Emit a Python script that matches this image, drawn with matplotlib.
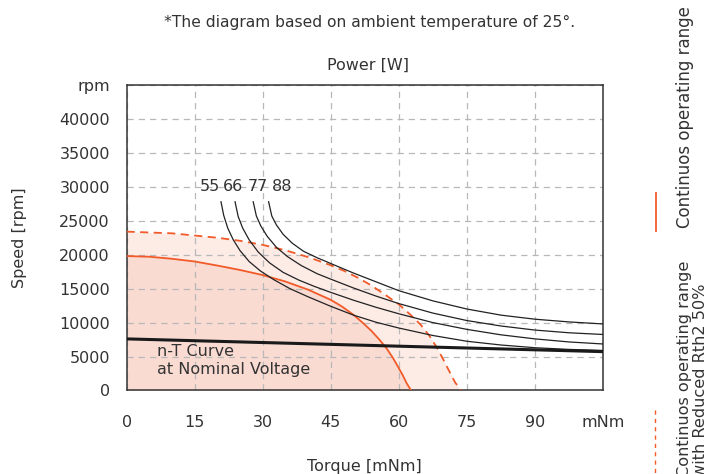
import numpy as np
import matplotlib
matplotlib.use("Agg")
import matplotlib.pyplot as plt

# continuous operating range (solid orange)
cont_torque = [0, 5, 10, 15, 20, 25, 30, 35, 40, 45, 47.5, 50, 52, 54, 55.7, 57.3,
               58.7, 59.9, 60.9, 61.7, 62.3, 62.7]
cont_speed = [19800, 19700, 19400, 19000, 18400, 17750, 17000, 16050, 14850, 13350,
              12350, 11150, 10000, 8750, 7500, 6200, 4800, 3400, 2200, 1100, 450, 0]

# continuous operating range with reduced Rth2 50% (dashed orange)
red_torque = [0, 10, 20, 25, 30, 35, 40, 45, 48, 51, 54, 57, 60, 62.5, 64.8, 66.8,
              68.5, 70, 71.3, 72.4, 73.2, 73.7]
red_speed = [23400, 23150, 22500, 22050, 21450, 20650, 19650, 18450, 17600, 16600,
             15450, 14100, 12700, 11200, 9700, 8000, 6200, 4300, 2600, 1200, 450, 0]

# n-T curve at nominal voltage
nt_torque = [0, 105]
nt_speed = [7600, 5720]

# constant power curves [W]
power_labels = ["55", "66", "77", "88"]
p55_torque = [20.8, 21.4, 22.3, 23.5, 25, 27, 29.5, 32.5, 36, 40, 45, 50, 55, 60,
              67.5, 75, 82.5, 90, 97.5, 105]
p55_speed = [27800, 25800, 23900, 22200, 20600, 19000, 17600, 16300, 15000, 13800,
             12400, 11100, 10050, 9200, 8100, 7250, 6700, 6300, 6050, 5900]
p66_torque = [23.9, 24.6, 25.6, 27, 29, 31.5, 34.5, 38, 41.5, 45, 50, 55, 60,
              67.5, 75, 82.5, 90, 97.5, 105]
p66_speed = [27800, 25600, 23900, 22200, 20400, 18800, 17400, 16250, 15300, 14450,
             13300, 12250, 11300, 10000, 9000, 8200, 7600, 7150, 6850]
p77_torque = [27.9, 28.6, 29.6, 31, 33, 35.5, 38.5, 42, 45, 50, 55, 60, 67.5, 75,
              82.5, 90, 97.5, 105]
p77_speed = [27800, 25700, 24200, 22700, 21100, 19700, 18400, 17200, 16400, 15100,
             13900, 12800, 11400, 10300, 9500, 8900, 8500, 8250]
p88_torque = [31.3, 32, 33, 34.5, 36.5, 39, 42, 45, 50, 55, 60, 67.5, 75, 82.5, 90,
              97.5, 105]
p88_speed = [27800, 25700, 24400, 23000, 21700, 20500, 19550, 18700, 17300, 16000,
             14700, 13200, 12000, 11100, 10500, 10100, 9800]
power_curves = [(p55_torque, p55_speed), (p66_torque, p66_speed),
                (p77_torque, p77_speed), (p88_torque, p88_speed)]
label_torque = [18.45, 23.55, 28.96, 34.17]

x_ticks = [0, 15, 30, 45, 60, 75, 90, 105]
x_ticklabels = ["0", "15", "30", "45", "60", "75", "90", "mNm"]
y_ticks = [0, 5000, 10000, 15000, 20000, 25000, 30000, 35000, 40000, 45000]
y_ticklabels = ["0", "5000", "10000", "15000", "20000", "25000", "30000", "35000", "40000", "rpm"]

orange = "#f15a29"
txt = "#333333"
fs = 11.5

plt.rcParams['font.family'] = ['DejaVu Sans']
fig = plt.figure(figsize=(7.05, 4.74), dpi=100)
ax = fig.add_axes([0.1796, 0.1762, 0.6757, 0.6445])

ax.fill_between(red_torque, red_speed, 0, color="#fdebe6", lw=0, zorder=0.2)
ax.fill_between(cont_torque, cont_speed, 0, color="#f9dbd2", lw=0, zorder=0.3)
ax.plot(red_torque, red_speed, color=orange, lw=1.3, ls=(0, (4.5, 3)), zorder=3)
ax.plot(cont_torque, cont_speed, color=orange, lw=1.3, zorder=3)

for (t, s) in power_curves:
    ax.plot(t, s, color="#222222", lw=0.9, zorder=4)
for lab, t in zip(power_labels, label_torque):
    ax.text(t, 30000, lab, ha="center", va="center", fontsize=11.5, color=txt, zorder=5)

ax.plot(nt_torque, nt_speed, color="#1a1a1a", lw=2.2, zorder=5)
ax.text(6.6, 6800, "n-T Curve\nat Nominal Voltage", ha="left", va="top",
        fontsize=fs, color=txt, linespacing=1.25, zorder=6)

ax.set_xlim(0, 105)
ax.set_ylim(0, 45000)
ax.set_xticks(x_ticks)
ax.set_xticklabels(x_ticklabels)
ax.set_yticks(y_ticks)
ax.set_yticklabels(y_ticklabels)
ax.tick_params(length=0, labelsize=fs, labelcolor=txt)
ax.tick_params(axis="x", pad=17.5)
ax.tick_params(axis="y", pad=12)
ax.set_axisbelow(True)
ax.grid(True, color="#b8b8b8", ls=(0, (5, 4)), lw=0.9)
for sp in ax.spines.values():
    sp.set_color("#333333")
    sp.set_linewidth(1.1)

ax.set_xlabel("Torque [mNm]", fontsize=fs, color=txt, labelpad=21)
ax.set_ylabel("Speed [rpm]", fontsize=fs, color=txt, labelpad=23)

fig.text(370 / 705, 1 - 22 / 474, "*The diagram based on ambient temperature of 25°.",
         ha="center", va="center", fontsize=11.2, color=txt)
fig.text(368 / 705, 1 - 65 / 474, "Power [W]", ha="center", va="center",
         fontsize=fs, color=txt)

# side legend
fig.text(685 / 705, 1 - 117 / 474, "Continuos operating range", rotation=90,
         ha="center", va="center", fontsize=12, color=txt)
fig.add_artist(plt.Line2D([656 / 705, 656 / 705], [1 - 193 / 474, 1 - 231 / 474],
                          color=orange, lw=1.3))
fig.text(677 / 705, -3 / 474, "Continuos operating range\nwith Reduced Rth2 50%",
         rotation=90, ha="left", va="bottom", fontsize=11.6, color=txt,
         linespacing=1.05)
fig.add_artist(plt.Line2D([655 / 705, 655 / 705], [1 - 410 / 474, 0.0],
                          color=orange, lw=1.0, ls=(0, (3, 3))))

fig.savefig("out.png", dpi=100)
